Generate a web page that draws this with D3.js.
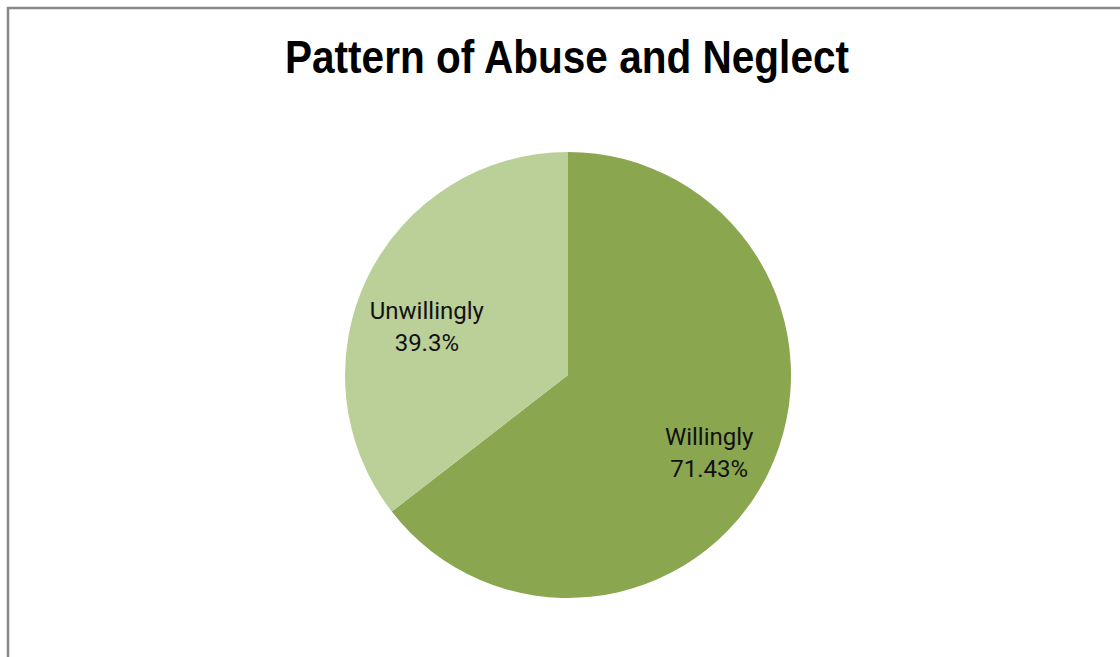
<!DOCTYPE html>
<html>
<head>
<meta charset="utf-8">
<script src="https://cdn.jsdelivr.net/npm/d3@7"></script>
<style>
  html, body { margin: 0; padding: 0; background: #fff; }
  svg { display: block; }
</style>
</head>
<body>
<svg id="chart" width="1120" height="657"></svg>
<script>
// Pattern of abuse and neglect: share of cases by willingness
const categories = ["Willingly", "Unwillingly"];
const values = [71.43, 39.3];
const valueLabels = ["71.43%", "39.3%"];
const colors = ["#8aa64f", "#bbcf98"];

const svg = d3.select("#chart");
const W = 1120, H = 657;

svg.append("rect").attr("width", W).attr("height", H).attr("fill", "#fff");

// chart frame (right and bottom edges fall outside the view)
svg.append("rect")
  .attr("x", 8).attr("y", 8)
  .attr("width", W + 20).attr("height", H + 20)
  .attr("fill", "none").attr("stroke", "#878787").attr("stroke-width", 2.5);

// condensed bold title
svg.append("text")
  .attr("x", 567).attr("y", 73)
  .attr("text-anchor", "middle")
  .attr("font-family", "'Liberation Sans', Arial, sans-serif")
  .attr("font-weight", "bold")
  .attr("font-size", 47)
  .attr("textLength", 564)
  .attr("lengthAdjust", "spacingAndGlyphs")
  .attr("fill", "#000")
  .text("Pattern of Abuse and Neglect");

const cx = 568, cy = 375, r = 223;
const data = categories.map((c, i) => ({ cat: c, value: values[i], label: valueLabels[i], color: colors[i] }));

const pie = d3.pie().value(d => d.value).sort(null);
const arc = d3.arc().innerRadius(0).outerRadius(r);
const labelArc = d3.arc().innerRadius(r * 0.7).outerRadius(r * 0.7);

const g = svg.append("g").attr("transform", `translate(${cx},${cy})`);
const arcs = pie(data);

g.selectAll("path").data(arcs).join("path")
  .attr("d", arc)
  .attr("fill", d => d.data.color);

// labels sit slightly below the slice centroid
const lbl = g.selectAll("text.lbl").data(arcs).join("text")
  .attr("class", "lbl")
  .attr("text-anchor", "middle")
  .attr("font-family", "Roboto, 'Liberation Sans', sans-serif")
  .attr("font-size", 24)
  .attr("fill", "#111")
  .attr("transform", d => {
    const [x, y] = labelArc.centroid(d);
    return `translate(${x + Math.sign(x)},${y * 0.92 + 7})`;
  });

lbl.append("tspan").attr("x", 0).attr("y", 0).text(d => d.data.cat);
lbl.append("tspan").attr("x", 0).attr("y", 32).text(d => d.data.label);
</script>
</body>
</html>
